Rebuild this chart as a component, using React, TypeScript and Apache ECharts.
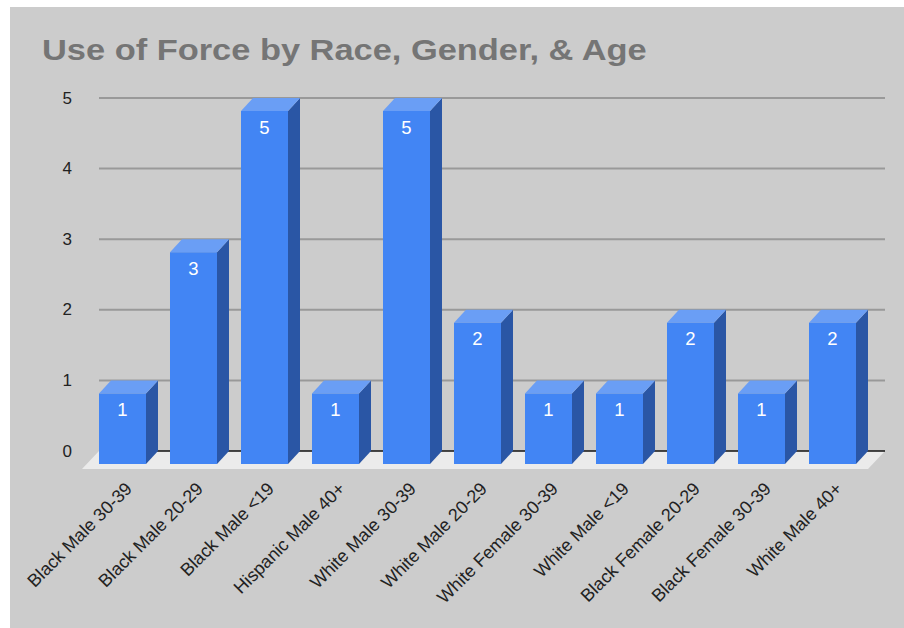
import React, { useEffect, useRef } from "react";
import * as echarts from "echarts";

const TITLE = "Use of Force by Race, Gender, & Age";
const categories = [
  "Black Male 30-39",
  "Black Male 20-29",
  "Black Male <19",
  "Hispanic Male 40+",
  "White Male 30-39",
  "White Male 20-29",
  "White Female 30-39",
  "White Male <19",
  "Black Female 20-29",
  "Black Female 30-39",
  "White Male 40+",
];
const counts = [1, 3, 5, 1, 5, 2, 1, 1, 2, 1, 2];
const yTicks = [0, 1, 2, 3, 4, 5];

// pseudo-3D geometry (pixels)
const DEPTH_X = -12;
const DEPTH_Y = 13;
const FLOOR_X = -17;
const FLOOR_Y = 18;
const BACK_EXTRA = 5;

const FRONT = "#4285f4";
const SIDE = "#2a56a5";
const TOP = "#6a9ef5";
const SANS = "Liberation Sans, Arial, sans-serif";

export default function App() {
  const ref = useRef<HTMLDivElement>(null);

  useEffect(() => {
    if (!ref.current) return;
    const chart = echarts.init(ref.current, undefined, { renderer: "svg" });

    // back-wall gridlines, floor slab and zero line
    const backdrop = (params: any, api: any) => {
      const cs = params.coordSys;
      const xL = cs.x;
      const xR = cs.x + cs.width + BACK_EXTRA;
      const children: any[] = [];
      yTicks.forEach((t) => {
        if (t === 0) return;
        const y = api.coord([0, t])[1];
        children.push({
          type: "line",
          shape: { x1: xL, y1: y, x2: xR, y2: y },
          style: { stroke: "#999999", lineWidth: 2 },
        });
      });
      const y0 = api.coord([0, 0])[1];
      children.push({
        type: "polygon",
        shape: {
          points: [
            [xL, y0],
            [xR, y0],
            [xR + FLOOR_X, y0 + FLOOR_Y],
            [xL + FLOOR_X, y0 + FLOOR_Y],
          ],
        },
        style: { fill: "#ebebeb" },
      });
      children.push({
        type: "line",
        shape: { x1: xL, y1: y0, x2: xR, y2: y0 },
        style: { stroke: "#111111", lineWidth: 1.5 },
      });
      return { type: "group", children };
    };

    // box-shaped bar: front face, right side, top, value label
    const bar3d = (params: any, api: any) => {
      const idx = api.value(0);
      const val = api.value(1);
      const top = api.coord([idx, val]);
      const base = api.coord([idx, 0]);
      const band = api.size([1, 0])[0];
      const w = band * 0.662;
      const bx0 = top[0] - w / 2;
      const bx1 = top[0] + w / 2;
      const yT = top[1];
      const yB = base[1];
      const fx0 = bx0 + DEPTH_X;
      const fx1 = bx1 + DEPTH_X;
      const fyT = yT + DEPTH_Y;
      const fyB = yB + DEPTH_Y;
      return {
        type: "group",
        children: [
          {
            type: "polygon",
            shape: { points: [[fx1, fyT], [bx1, yT], [bx1, yB], [fx1, fyB]] },
            style: { fill: SIDE },
          },
          {
            type: "polygon",
            shape: { points: [[fx0, fyT], [bx0, yT], [bx1, yT], [fx1, fyT]] },
            style: { fill: TOP },
          },
          {
            type: "rect",
            shape: { x: fx0, y: fyT, width: w, height: fyB - fyT },
            style: { fill: FRONT },
          },
          {
            type: "text",
            x: (fx0 + fx1) / 2,
            y: fyT + 16,
            style: {
              text: String(val),
              fill: "#ffffff",
              fontSize: 18.5,
              fontFamily: SANS,
              align: "center",
              verticalAlign: "middle",
            },
          },
        ],
      };
    };

    chart.setOption({
      animation: false,
      backgroundColor: "transparent",
      graphic: [
        {
          type: "text",
          x: 42,
          y: 50,
          scaleX: 1.147,
          style: {
            text: TITLE,
            fontFamily: "Liberation Sans",
            fontWeight: 700,
            fontSize: 30,
            fill: "#757575",
            align: "left",
            verticalAlign: "middle",
          },
        },
      ],
      grid: { left: 99, top: 98, width: 781, height: 353, containLabel: false },
      xAxis: {
        type: "category",
        data: categories,
        axisLine: { show: false },
        axisTick: { show: false },
        splitLine: { show: false },
        axisLabel: {
          interval: 0,
          rotate: 45,
          margin: 29,
          padding: [0, 8, 0, 0],
          fontSize: 18,
          color: "#222222",
          fontFamily: SANS,
        },
      },
      yAxis: {
        type: "value",
        min: 0,
        max: 5,
        interval: 1,
        axisLine: { show: false },
        axisTick: { show: false },
        splitLine: { show: false },
        axisLabel: {
          margin: 27,
          fontSize: 17,
          color: "#222222",
          fontFamily: SANS,
        },
      },
      series: [
        {
          type: "custom",
          name: "backdrop",
          z: 1,
          silent: true,
          data: [[0, 0]],
          encode: { x: 0, y: 1 },
          renderItem: backdrop,
        },
        {
          type: "custom",
          name: "Use of Force",
          z: 2,
          data: counts.map((v, i) => [i, v]),
          encode: { x: 0, y: 1 },
          renderItem: bar3d,
        },
      ],
    });

    return () => chart.dispose();
  }, []);

  return (
    <div
      style={{
        position: "absolute",
        left: 0,
        top: 0,
        width: 904,
        height: 628,
        background: "#ffffff",
      }}
    >
      <div
        style={{
          position: "absolute",
          left: 10,
          top: 7,
          width: 894,
          height: 621,
          background: "#cccccc",
        }}
      />
      <div
        ref={ref}
        style={{ position: "absolute", left: 0, top: 0, width: 904, height: 628 }}
      />
    </div>
  );
}
